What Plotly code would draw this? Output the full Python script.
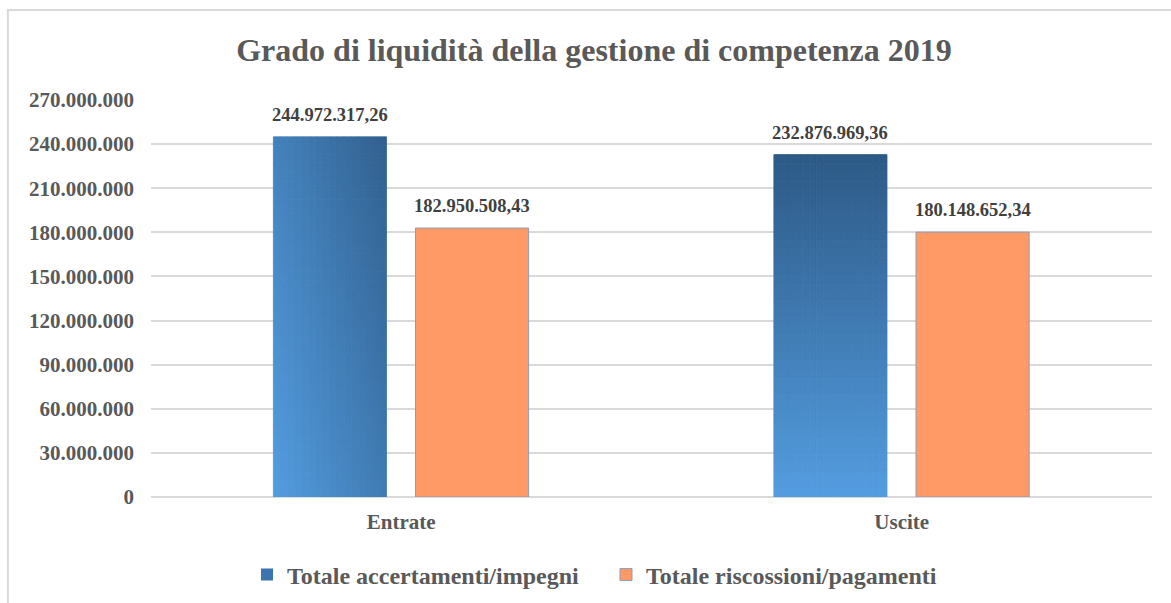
import plotly.graph_objects as go

# dati del grafico
categorie = ["Entrate", "Uscite"]
nomi_serie = ["Totale accertamenti/impegni", "Totale riscossioni/pagamenti"]
accertamenti_impegni = [244972317.26, 232876969.36]
riscossioni_pagamenti = [182950508.43, 180148652.34]
tick_y = [0, 30000000, 60000000, 90000000, 120000000, 150000000,
          180000000, 210000000, 240000000, 270000000]

FONT = "Liberation Serif, Times New Roman, serif"
GRIGIO = "#595959"
BAR_W = 0.226
OFF_BLU = -0.2555
OFF_ARANCIO = 0.0285
CHIARO = (83, 157, 224)
SCURO = (45, 89, 134)


def mix(t):
    t = max(0.0, min(1.0, t))
    r, g, b = [round(c + (s - c) * t) for c, s in zip(CHIARO, SCURO)]
    return f"rgb({r},{g},{b})"


def fmt_it(v):
    return f"{v:,.2f}".replace(",", "X").replace(".", ",").replace("X", ".")


fig = go.Figure()

# voce di legenda per la serie blu (le barre vere sono disegnate a strisce)
fig.add_trace(go.Bar(
    x=categorie, y=[None, None], name=nomi_serie[0],
    marker=dict(color="#3B74AE", line=dict(width=0)),
    hoverinfo="skip",
))

# serie blu con sfumatura: colonne x righe impilate
K, M = 16, 40
for k in range(K):
    u = (k + 0.5) / K
    xs, basi, alt, colori = [], [], [], []
    for i, cat in enumerate(categorie):
        val = accertamenti_impegni[i]
        for j in range(M):
            v = (j + 0.5) / M
            xs.append(cat)
            basi.append(val * j / M)
            alt.append(val / M)
            if i == 0:
                colori.append(mix(0.5 * u + 0.4 * v))
            else:
                colori.append(mix(v))
    fig.add_trace(go.Bar(
        x=xs, y=alt, base=basi,
        width=BAR_W / K, offset=OFF_BLU + k * BAR_W / K,
        marker=dict(color=colori, line=dict(color=colori, width=0.8)),
        showlegend=False, hoverinfo="skip",
    ))

fig.add_trace(go.Bar(
    x=categorie, y=riscossioni_pagamenti, name=nomi_serie[1],
    width=BAR_W, offset=OFF_ARANCIO,
    marker=dict(color="#FF9966", line=dict(color="#8C9DB5", width=1)),
))

# etichette dei valori
for i in range(len(categorie)):
    for val, off in [(accertamenti_impegni[i], OFF_BLU), (riscossioni_pagamenti[i], OFF_ARANCIO)]:
        fig.add_annotation(
            x=i + off + BAR_W / 2, y=val, xref="x", yref="y",
            text=fmt_it(val), showarrow=False,
            yanchor="middle", yshift=22,
            font=dict(family=FONT, size=18.5, color="#404040", weight="bold"),
        )

# bordo esterno del grafico
fig.add_shape(
    type="rect", xref="paper", yref="paper",
    x0=-0.143, x1=1.04, y0=-0.3, y1=1.2267,
    line=dict(color="#D9D9D9", width=2), layer="below",
)

fig.update_layout(
    width=1171, height=603,
    margin=dict(l=151, r=19, t=100, b=106),
    paper_bgcolor="white", plot_bgcolor="white",
    barmode="overlay",
    separators=",.",
    title=dict(
        text="Grado di liquidità della gestione di competenza 2019",
        x=594 / 1171, xanchor="center", y=1 - 50 / 603, yanchor="middle",
        font=dict(family=FONT, size=32, color=GRIGIO, weight="bold"),
    ),
    legend=dict(
        orientation="h", xref="container", yref="container",
        x=247 / 1171, xanchor="left",
        y=1 - 575 / 603, yanchor="middle",
        entrywidth=314,
        font=dict(family=FONT, size=24, color=GRIGIO, weight="bold"),
        itemclick=False,
    ),
    showlegend=True,
)
fig.update_xaxes(
    type="category", range=[-0.5, 1.5],
    showgrid=False, showline=False, ticks="",
    ticklabelstandoff=10,
    tickfont=dict(family=FONT, size=21, color=GRIGIO, weight="bold"),
)
fig.update_yaxes(
    range=[0, 270000000], tickvals=tick_y, tickformat=",d",
    showgrid=True, gridcolor="#D9D9D9", gridwidth=1.5,
    zeroline=True, zerolinecolor="#D9D9D9", zerolinewidth=1.5,
    ticklabelstandoff=16,
    tickfont=dict(family=FONT, size=21, color=GRIGIO, weight="bold"),
)

fig.write_html(
    "out.html",
    config={"displayModeBar": False},
    post_script="document.body.style.margin='0';",
)
